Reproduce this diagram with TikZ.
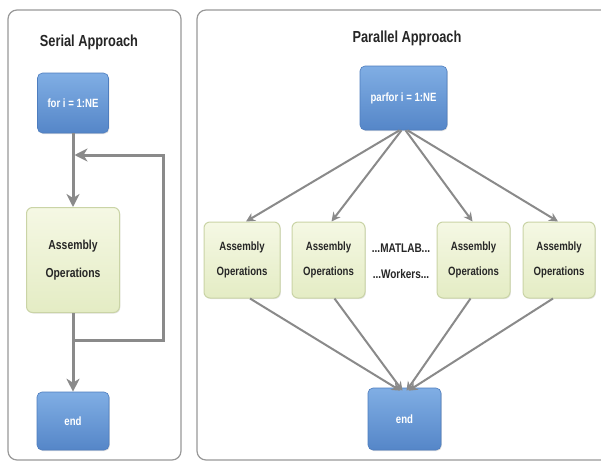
\documentclass[tikz,border=0pt]{standalone}
\usepackage{fontspec}
\setmainfont{Liberation Sans}
\newfontfamily\nar[FakeStretch=0.8]{Liberation Sans}
\usetikzlibrary{arrows.meta,shadows}
\definecolor{btop}{HTML}{80AEE4}
\definecolor{bbot}{HTML}{5586C8}
\definecolor{bline}{HTML}{4E7DBE}
\definecolor{gtop}{HTML}{F5F8E4}
\definecolor{gbot}{HTML}{E4ECC4}
\definecolor{gline}{HTML}{CAD4A6}
\definecolor{arr}{HTML}{8A8A8A}
\begin{document}
\begin{tikzpicture}[x=1pt,y=-1pt,
  panel/.style={draw=black!40, line width=1.2pt, rounded corners=9pt},
  title/.style={font=\nar\bfseries\fontsize{16}{18}\selectfont, text=black!85},
  bluebox/.style={draw=bline, line width=0.6pt, rounded corners=5pt, top color=btop, bottom color=bbot,
     text=white, font=\nar\bfseries\fontsize{12}{14}\selectfont, inner sep=0pt,
     drop shadow={shadow xshift=0.8pt, shadow yshift=-1pt, opacity=0.25}},
  greenbox/.style={draw=gline, line width=1pt, rounded corners=6pt, top color=gtop, bottom color=gbot,
     text=black!85, font=\nar\bfseries\fontsize{12}{25}\selectfont, align=center, inner sep=0pt,
     drop shadow={shadow xshift=0.8pt, shadow yshift=-1pt, opacity=0.2}},
  sarrow/.style={draw=arr, line width=3pt, -{Stealth[length=13pt,width=13pt,inset=4pt]}},
  parrow/.style={draw=arr, line width=2pt, -{Stealth[length=9pt,width=9pt,inset=3pt]}},
  lbl/.style={font=\nar\bfseries\fontsize{12.5}{14}\selectfont, text=black!85}
]
\useasboundingbox (0,0) rectangle (601,463);
\fill[white] (0,0) rectangle (601,463);

% panels
\draw[panel] (8,10) rectangle (181,460);
\draw[panel] (197,10) rectangle (612,460);
\node[title] (st) at (89,42) {Serial Approach};
\node[title] (pt) at (407,38) {Parallel Approach};

% serial
\node[bluebox, minimum width=71pt, minimum height=60pt] (sfor) at (73,103) {for i = 1:NE};
\node[greenbox, minimum width=93pt, minimum height=105pt, font=\nar\bfseries\fontsize{13}{28}\selectfont] (sasm) at (73,260) {Assembly\\Operations};
\node[bluebox, minimum width=72pt, minimum height=58pt] (send) at (73,421) {end};
\coordinate (lb) at (73,340);
\coordinate (lr) at (163,340);
\coordinate (lu) at (163,155);
\coordinate (lt) at (74.5,155);
\draw[sarrow] (sfor) -- (sasm);
\draw[sarrow] (sasm) -- (send);
\draw[sarrow] (lb) -- (lr) -- (lu) -- (lt);

% parallel
\node[bluebox, minimum width=87pt, minimum height=64pt] (pfor) at (403.5,98) {parfor i = 1:NE};
\node[greenbox, minimum width=76pt, minimum height=76pt] (a1) at (242,260) {Assembly\\Operations};
\node[greenbox, minimum width=73pt, minimum height=76pt] (a2) at (328.5,260) {Assembly\\Operations};
\node[greenbox, minimum width=73pt, minimum height=76pt] (a3) at (473.5,260) {Assembly\\Operations};
\node[greenbox, minimum width=72pt, minimum height=76pt] (a4) at (559,260) {Assembly\\Operations};
\node[lbl] (m1) at (401,248) {...MATLAB...};
\node[lbl] (m2) at (401,274) {...Workers...};
\node[bluebox, minimum width=73pt, minimum height=62pt] (pend) at (404.5,419) {end};

\draw[parrow] ([xshift=-4pt]pfor.south) -- ([xshift=4pt]a1.north);
\draw[parrow] ([xshift=-2pt]pfor.south) -- ([xshift=3pt]a2.north);
\draw[parrow] ([xshift=2pt]pfor.south) -- ([xshift=-1pt]a3.north);
\draw[parrow] ([xshift=4pt]pfor.south) -- ([xshift=-1pt]a4.north);

\draw[parrow] ([xshift=8pt]a1.south) -- ([xshift=-4pt,yshift=-3pt]pend.north);
\draw[parrow] ([xshift=6pt]a2.south) -- ([xshift=-2pt,yshift=-3pt]pend.north);
\draw[parrow] ([xshift=-3pt]a3.south) -- ([xshift=2pt,yshift=-3pt]pend.north);
\draw[parrow] ([xshift=-6pt]a4.south) -- ([xshift=4pt,yshift=-3pt]pend.north);
\end{tikzpicture}
\end{document}
